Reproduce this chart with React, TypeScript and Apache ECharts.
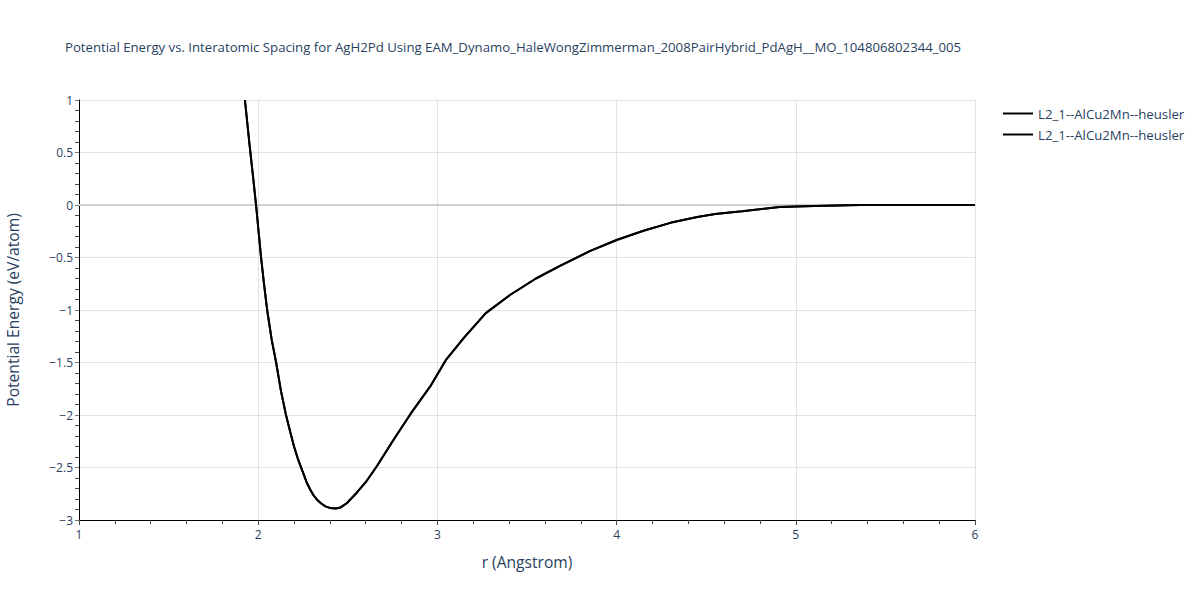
import React, { useEffect, useRef } from "react";
import * as echarts from "echarts";

const title =
  "Potential Energy vs. Interatomic Spacing for AgH2Pd Using EAM_Dynamo_HaleWongZimmerman_2008PairHybrid_PdAgH__MO_104806802344_005";
const seriesNames = ["L2_1--AlCu2Mn--heusler", "L2_1--AlCu2Mn--heusler"];
const rValues = [
  1.926, 1.95, 1.97, 1.988, 2.002, 2.016, 2.033, 2.05, 2.075, 2.1, 2.127, 2.155, 2.18, 2.2, 2.22,
  2.237, 2.255, 2.27, 2.29, 2.307, 2.33, 2.35, 2.375, 2.4, 2.434, 2.46, 2.494, 2.55, 2.6, 2.661,
  2.75, 2.85, 2.959, 3.05, 3.15, 3.27, 3.405, 3.55, 3.684, 3.85, 4.0, 4.15, 4.3, 4.45, 4.55, 4.7,
  4.91, 5.1, 5.36, 5.6, 6.0,
];
const energyValues = [
  1.0, 0.6, 0.29, 0.0, -0.25, -0.5, -0.76, -1.0, -1.28, -1.5, -1.77, -2.0, -2.17, -2.3, -2.41,
  -2.49, -2.57, -2.64, -2.71, -2.76, -2.81, -2.84, -2.87, -2.885, -2.89, -2.88, -2.84, -2.74,
  -2.64, -2.49, -2.25, -1.99, -1.73, -1.47, -1.26, -1.03, -0.857, -0.7, -0.58, -0.44, -0.333,
  -0.245, -0.17, -0.115, -0.086, -0.06, -0.02, -0.01, 0.0, 0.0, 0.0,
];

const FONT = '"Open Sans", Arial, sans-serif';
const TXT = "#2a3f5f";

const fmt = (v: number) => (v < 0 ? "\u2212" + Math.abs(v) : String(v));

export default function App() {
  const ref = useRef<HTMLDivElement>(null);
  useEffect(() => {
    if (!ref.current) return;
    const chart = echarts.init(ref.current, null, { renderer: "svg" });
    const data = rValues.map((r, i) => [r, energyValues[i]]);
    chart.setOption({
      animation: false,
      backgroundColor: "#fff",
      textStyle: { fontFamily: FONT },
      title: {
        text: title,
        left: 60,
        top: 35,
        textStyle: { fontSize: 13.2, fontWeight: "normal", color: TXT, fontFamily: FONT },
      },
      legend: seriesNames.map((n, i) => ({
        data: [n],
        orient: "vertical",
        left: 998,
        top: 102 + i * 21,
        icon: "rect",
        itemWidth: 30,
        itemHeight: 2,
        itemGap: 5,
        textStyle: { fontSize: 13.2, color: TXT, fontFamily: FONT },
      })),
      grid: { left: 79, right: 225, top: 100, bottom: 80, containLabel: false, outerBoundsMode: "none" },
      xAxis: {
        type: "value",
        min: 1,
        max: 6,
        interval: 1,
        name: "r (Angstrom)",
        nameLocation: "middle",
        nameGap: 34,
        nameTextStyle: { fontSize: 15.6, color: TXT, fontFamily: FONT },
        axisLine: { onZero: false, lineStyle: { color: "#000", width: 1 } },
        axisTick: { show: true, length: 5, lineStyle: { color: "#444" } },
        minorTick: { show: true, splitNumber: 5, length: 4, lineStyle: { color: "#444" } },
        axisLabel: { fontSize: 12, color: TXT, margin: 8, fontFamily: FONT },
        splitLine: { show: true, lineStyle: { color: "#e1e1e1", width: 1 } },
      },
      yAxis: {
        type: "value",
        min: -3,
        max: 1,
        interval: 0.5,
        name: "Potential Energy (eV/atom)",
        nameLocation: "middle",
        nameGap: 58,
        nameTextStyle: { fontSize: 15.6, color: TXT, fontFamily: FONT },
        axisLine: { show: true, onZero: false, lineStyle: { color: "#000", width: 1 } },
        axisTick: { show: true, length: 4, lineStyle: { color: "#777" } },
        minorTick: { show: true, splitNumber: 5, length: 4, lineStyle: { color: "#444" } },
        axisLabel: { fontSize: 12, color: TXT, margin: 6, formatter: fmt, fontFamily: FONT },
        splitLine: { show: true, lineStyle: { color: "#e1e1e1", width: 1 } },
      },
      series: seriesNames.map((n, i) => ({
        name: n,
        type: "line",
        data,
        showSymbol: false,
        symbol: "none",
        smooth: false,
        clip: true,
        lineStyle: { color: "#000", width: 2 },
        itemStyle: { color: "#000" },
        z: 3 + i,
        markLine:
          i === 0
            ? {
                silent: true,
                symbol: "none",
                label: { show: false },
                lineStyle: { color: "#cfcfcf", width: 2, type: "solid" },
                data: [{ yAxis: 0 }],
                z: 1,
              }
            : undefined,
      })),
    });
    return () => chart.dispose();
  }, []);
  return <div ref={ref} style={{ width: 1200, height: 600, position: "absolute", left: 0, top: 0 }} />;
}
